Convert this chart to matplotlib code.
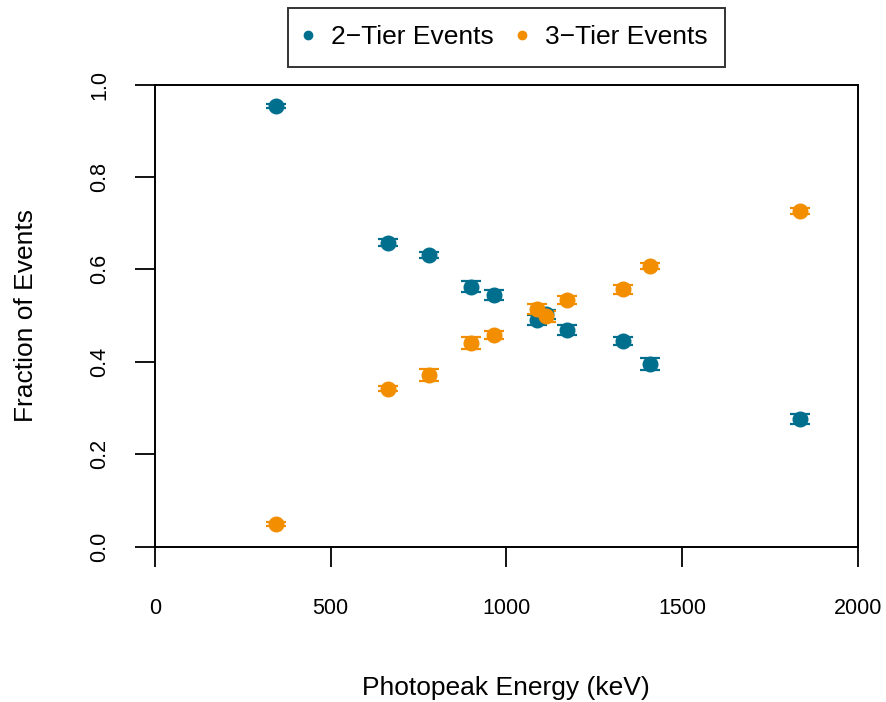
import matplotlib
matplotlib.use("Agg")
import matplotlib.pyplot as plt

plt.rcParams['font.family'] = ['Liberation Sans', 'DejaVu Sans']

# photopeak energies (keV)
energy = [344, 662, 779, 898, 964, 1086, 1112, 1173, 1332, 1408, 1836]

# fraction of events and their uncertainties
frac_2tier = [0.953, 0.658, 0.631, 0.562, 0.544, 0.490, 0.503, 0.469, 0.445, 0.395, 0.276]
err_2tier = [0.004, 0.007, 0.007, 0.012, 0.011, 0.011, 0.010, 0.011, 0.009, 0.012, 0.010]
frac_3tier = [0.049, 0.342, 0.372, 0.440, 0.458, 0.514, 0.498, 0.534, 0.557, 0.607, 0.726]
err_3tier = [0.004, 0.006, 0.013, 0.013, 0.008, 0.010, 0.011, 0.008, 0.010, 0.007, 0.007]

blue = '#006F8E'
orange = '#F28E00'

fig = plt.figure(figsize=(8.86, 7.02), dpi=100)
ax = fig.add_axes([0.1749, 0.2215, 0.7932, 0.6581])

for y, e, c, lab in [(frac_2tier, err_2tier, blue, '2\u2212Tier Events'),
                     (frac_3tier, err_3tier, orange, '3\u2212Tier Events')]:
    ax.errorbar(energy, y, yerr=e, fmt='none', ecolor=c, elinewidth=1.6,
                capsize=7.5, capthick=1.6, zorder=2)
    ax.plot(energy, y, 'o', color=c, markersize=10.5, zorder=3, label=lab)

ax.set_xlim(0, 2000)
ax.set_ylim(0, 1)
ax.set_xticks([0, 500, 1000, 1500, 2000])
ax.set_yticks([0.0, 0.2, 0.4, 0.6, 0.8, 1.0])
ax.set_yticklabels(['0.0', '0.2', '0.4', '0.6', '0.8', '1.0'], rotation=90, va='center')
ax.tick_params(length=14.4, width=1.3, labelsize=15.5, pad=23)
ax.tick_params(axis='y', pad=18)
for s in ax.spines.values():
    s.set_linewidth(1.4)

ax.set_xlabel('Photopeak Energy (keV)', fontsize=19, labelpad=41)
ax.set_ylabel('Fraction of Events', fontsize=19, labelpad=37)

handles = [plt.Line2D([], [], ls='none', marker='o', color=blue, markersize=6),
           plt.Line2D([], [], ls='none', marker='o', color=orange, markersize=6)]
leg = fig.legend(handles, ['2\u2212Tier Events', '3\u2212Tier Events'],
                 loc='center', bbox_to_anchor=(0.5717, 0.947), ncol=2,
                 fontsize=19, frameon=True, fancybox=False, edgecolor='black',
                 handletextpad=0.78, columnspacing=0.98, borderpad=0.66,
                 handlelength=0.2, borderaxespad=0)
leg.get_frame().set_linewidth(1.4)

fig.savefig('out.png', dpi=100)
